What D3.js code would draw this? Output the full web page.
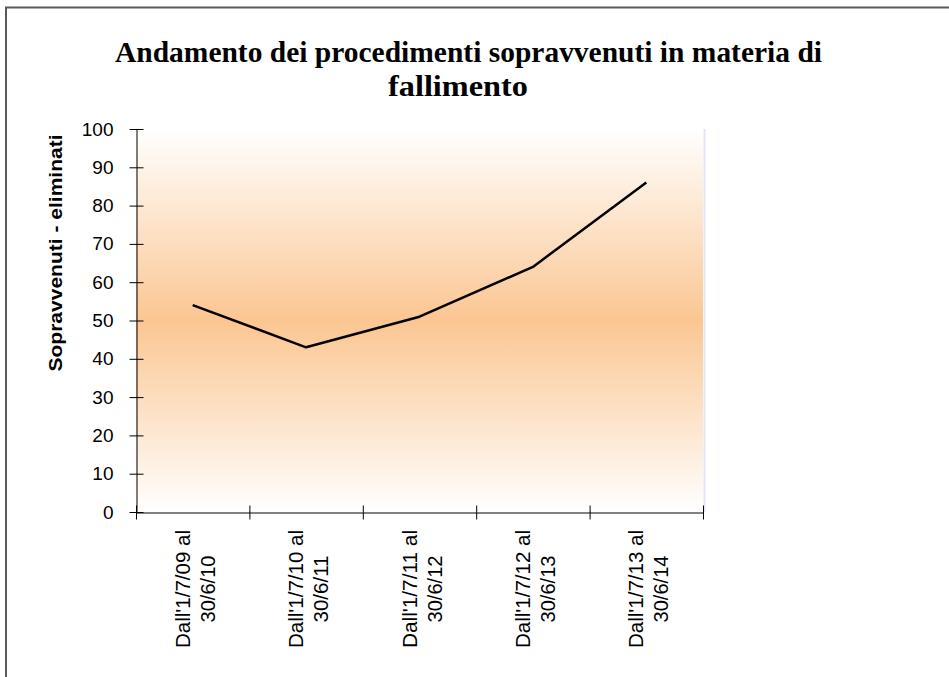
<!DOCTYPE html>
<html>
<head>
<meta charset="utf-8">
<script src="https://cdn.jsdelivr.net/npm/d3@7/dist/d3.min.js"></script>
<style>
  body { margin: 0; background: #fff; }
  svg { display: block; }
</style>
</head>
<body>
<div id="chart"></div>
<script>
var titleLines = ['Andamento dei procedimenti sopravvenuti in materia di', 'fallimento'];
var yTitle = 'Sopravvenuti - eliminati';
var periods = [
  ["Dall'1/7/09 al", '30/6/10'],
  ["Dall'1/7/10 al", '30/6/11'],
  ["Dall'1/7/11 al", '30/6/12'],
  ["Dall'1/7/12 al", '30/6/13'],
  ["Dall'1/7/13 al", '30/6/14']
];
var values = [54, 43, 51, 64, 86];
var yTicks = [0, 10, 20, 30, 40, 50, 60, 70, 80, 90, 100];

var width = 949, height = 677;
var plot = {left: 136, right: 703, top: 129, bottom: 512};

var svg = d3.select('#chart').append('svg')
  .attr('width', width)
  .attr('height', height);

// outer frame, only top and left edges fall inside the window
svg.append('rect')
  .attr('x', 6).attr('y', 7.5)
  .attr('width', 1200).attr('height', 1200)
  .style('fill', 'none')
  .style('stroke', '#5a5a5a')
  .style('stroke-width', 2);

var grad = svg.append('defs').append('linearGradient')
  .attr('id', 'bg')
  .attr('x1', 0).attr('y1', 0).attr('x2', 0).attr('y2', 1);
grad.append('stop').attr('offset', '0%').attr('stop-color', '#ffffff');
grad.append('stop').attr('offset', '50%').attr('stop-color', '#fbc692');
grad.append('stop').attr('offset', '100%').attr('stop-color', '#ffffff');

var x = d3.scaleBand()
  .domain(d3.range(periods.length))
  .range([plot.left, plot.right]);

var xEdge = d3.scaleLinear()
  .domain([0, periods.length])
  .range([plot.left, plot.right]);

var y = d3.scaleLinear()
  .domain([0, 100])
  .range([plot.bottom, plot.top]);

svg.append('rect')
  .attr('x', plot.left)
  .attr('y', plot.top)
  .attr('width', plot.right - plot.left)
  .attr('height', plot.bottom - plot.top)
  .style('fill', 'url(#bg)');

svg.append('line')
  .attr('x1', plot.right + 1.5).attr('x2', plot.right + 1.5)
  .attr('y1', plot.top).attr('y2', plot.bottom)
  .style('stroke', '#dfe6f4')
  .style('stroke-width', 2);

// title
var title = svg.append('g')
  .style('font-family', '"Liberation Serif", "Times New Roman", serif')
  .style('font-weight', 'bold')
  .style('font-size', '30px')
  .style('fill', '#000');
title.append('text')
  .attr('x', 115).attr('y', 62)
  .attr('textLength', 707)
  .attr('lengthAdjust', 'spacingAndGlyphs')
  .text(titleLines[0]);
title.append('text')
  .attr('x', 388).attr('y', 96)
  .attr('textLength', 140)
  .attr('lengthAdjust', 'spacingAndGlyphs')
  .text(titleLines[1]);

// y axis
var yAxis = d3.axisLeft(y)
  .tickValues(yTicks)
  .tickSizeInner(7)
  .tickSizeOuter(0)
  .tickPadding(16);

var gY = svg.append('g')
  .attr('transform', 'translate(' + (plot.left + 0.5) + ',0)')
  .call(yAxis);
gY.selectAll('.tick line').attr('x1', 7);
gY.selectAll('.tick text')
  .style('font-family', '"Liberation Sans", Arial, sans-serif')
  .style('font-size', '19px')
  .style('fill', '#000');
gY.selectAll('line, path').style('stroke', '#000');

svg.append('text')
  .attr('transform', 'translate(62,253) rotate(-90)')
  .attr('text-anchor', 'middle')
  .attr('textLength', 237)
  .attr('lengthAdjust', 'spacingAndGlyphs')
  .style('font-family', '"Liberation Sans", Arial, sans-serif')
  .style('font-weight', 'bold')
  .style('font-size', '19px')
  .text(yTitle);

// x axis: ticks on the category boundaries
var xAxis = d3.axisBottom(xEdge)
  .tickValues(d3.range(periods.length + 1))
  .tickFormat('')
  .tickSizeInner(7)
  .tickSizeOuter(0);

var gX = svg.append('g')
  .attr('transform', 'translate(0,' + (plot.bottom + 0.5) + ')')
  .call(xAxis);
gX.selectAll('.tick line').attr('y1', -7);
gX.selectAll('line, path').style('stroke', '#000');

var labels = svg.selectAll('.period')
  .data(periods)
  .enter().append('text')
    .attr('class', 'period')
    .attr('transform', (d, i) => 'translate(' + (x(i) + x.bandwidth() / 2) + ',589) rotate(-90)')
    .attr('text-anchor', 'middle')
    .style('font-family', '"Liberation Sans", Arial, sans-serif')
    .style('font-size', '20px')
    .style('fill', '#000');

labels.append('tspan')
  .attr('x', 0).attr('y', -3)
  .attr('textLength', 118)
  .attr('lengthAdjust', 'spacingAndGlyphs')
  .text(d => d[0]);
labels.append('tspan')
  .attr('x', 0).attr('y', 22)
  .attr('textLength', 67)
  .attr('lengthAdjust', 'spacingAndGlyphs')
  .text(d => d[1]);

// series line
var line = d3.line()
  .x((d, i) => x(i) + x.bandwidth() / 2)
  .y(d => y(d));

svg.append('path')
  .datum(values)
  .attr('d', line)
  .style('fill', 'none')
  .style('stroke', '#000')
  .style('stroke-width', 2.5)
  .style('stroke-linejoin', 'round');
</script>
</body>
</html>
